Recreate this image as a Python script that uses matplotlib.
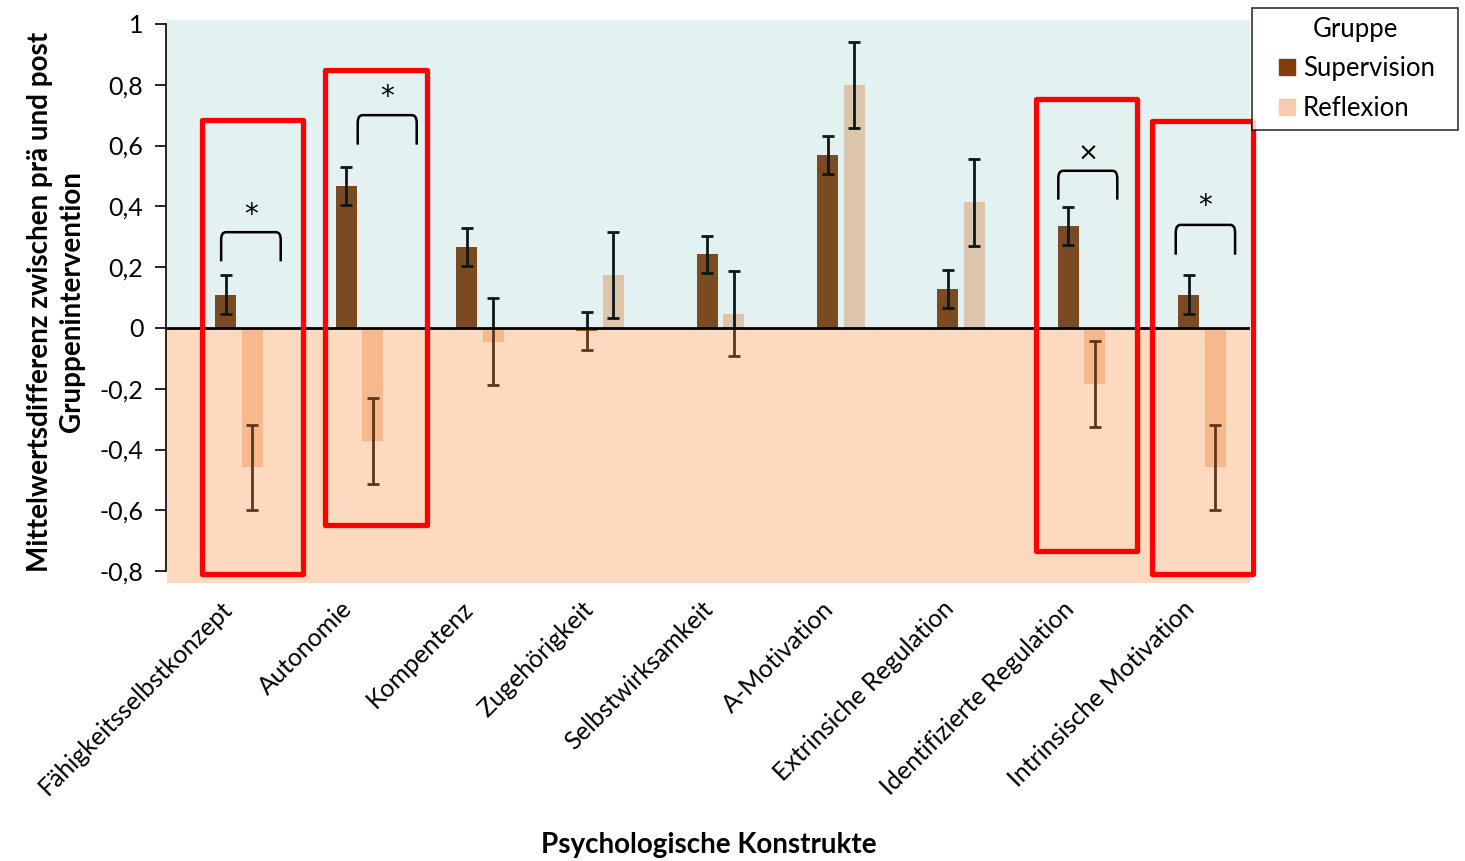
import numpy as np
import matplotlib
matplotlib.use("Agg")
import matplotlib.pyplot as plt
import matplotlib.transforms as mtransforms
from matplotlib.path import Path
from matplotlib.patches import PathPatch, Rectangle
from matplotlib.lines import Line2D

plt.rcParams["font.family"] = ["Lato", "DejaVu Sans"]

# data
categories = ["Fähigkeitsselbstkonzept", "Autonomie", "Kompentenz", "Zugehörigkeit",
              "Selbstwirksamkeit", "A-Motivation", "Extrinsiche Regulation",
              "Identifizierte Regulation", "Intrinsische Motivation"]
supervision = [0.11, 0.466, 0.266, -0.009, 0.242, 0.568, 0.128, 0.336, 0.11]
supervision_err = [0.063, 0.063, 0.063, 0.062, 0.062, 0.063, 0.062, 0.063, 0.063]
reflexion = [-0.459, -0.371, -0.045, 0.174, 0.047, 0.80, 0.413, -0.185, -0.459]
reflexion_err = [0.141, 0.141, 0.142, 0.141, 0.14, 0.141, 0.142, 0.141, 0.141]
yticks = [-0.8, -0.6, -0.4, -0.2, 0, 0.2, 0.4, 0.6, 0.8, 1]

# significance markers: (category, symbol)
signif = [(0, "*"), (1, "*"), (7, "×"), (8, "*")]
# bracket placement per marker: left/right offset from category, leg bottom, top, symbol y
bracket_pos = [(-0.05, 0.445, 0.219, 0.315, 0.37),
               (0.085, 0.575, 0.603, 0.70, 0.76),
               (-0.093, 0.397, 0.422, 0.517, 0.573),
               (-0.117, 0.376, 0.241, 0.339, 0.40)]
# highlighted boxes (x0, x1, y0, y1) in data units
highlight = [(-0.209, 0.630, -0.810, 0.685),
             (0.811, 1.658, -0.647, 0.847),
             (6.720, 7.565, -0.734, 0.754),
             (7.682, 8.525, -0.810, 0.680)]

SUP_COLOR = "#843c0c"
REF_COLOR = "#f8cbad"

fig = plt.figure(figsize=(14.65, 8.61), dpi=100)
ax = fig.add_axes([167 / 1465, 1 - 583 / 861, (1250 - 167) / 1465, (583 - 20) / 861])

x = np.arange(len(categories))
w = 0.175
ax.bar(x - 0.01, supervision, w, color=SUP_COLOR, zorder=2)
ax.bar(x + 0.21, reflexion, w, color=REF_COLOR, zorder=2)
ax.errorbar(x - 0.01, supervision, yerr=supervision_err, fmt="none", ecolor="black",
            elinewidth=2.0, capsize=4.5, capthick=2.0, zorder=2.5)
ax.errorbar(x + 0.21, reflexion, yerr=reflexion_err, fmt="none", ecolor="black",
            elinewidth=2.0, capsize=4.5, capthick=2.0, zorder=2.5)

ylo, yhi = -0.839, 1.013
ax.set_ylim(ylo, yhi)
ax.set_xlim(-0.5, len(categories) - 0.5)

# tinted overlays over positive / negative halves
ax.axhspan(0, yhi, color=(67 / 255, 167 / 255, 167 / 255), alpha=0.15, lw=0, zorder=3)
ax.axhspan(ylo, 0, color=(247 / 255, 151 / 255, 82 / 255), alpha=0.365, lw=0, zorder=3)
ax.axhline(0, color="black", lw=2, zorder=4)

for spine in ["top", "right", "bottom"]:
    ax.spines[spine].set_visible(False)
ax.spines["left"].set_bounds(-0.8, 1)
ax.spines["left"].set_linewidth(1.2)
ax.spines["left"].set_position(("outward", 1))

ax.set_yticks(yticks)
ax.set_yticklabels([f"{t:g}".replace(".", ",") for t in yticks], fontsize=18)
ax.tick_params(axis="y", length=8, width=1.2, pad=8)
ax.set_xticks(x)
ax.set_xticklabels(categories, rotation=45, ha="right", rotation_mode="anchor", fontsize=18)
ax.tick_params(axis="x", length=0, pad=10)
shift = mtransforms.ScaledTranslation(-7 / 100, 0, fig.dpi_scale_trans)
for lbl in ax.get_xticklabels():
    lbl.set_transform(lbl.get_transform() + shift)

ax.set_ylabel("Mittelwertsdifferenz zwischen prä und post\nGruppenintervention",
              fontsize=20, fontweight="bold", labelpad=10, linespacing=1.3)
ax.set_xlabel("Psychologische Konstrukte", fontsize=20, fontweight="bold", labelpad=24)

# significance brackets
for (cat, sym), (l, r, yb, yt, ys) in zip(signif, bracket_pos):
    x0, x1 = cat + l, cat + r
    rx, ry = 0.04, 0.025
    verts = [(x0, yb), (x0, yt - ry), (x0, yt), (x0 + rx, yt), (x1 - rx, yt),
             (x1, yt), (x1, yt - ry), (x1, yb)]
    codes = [Path.MOVETO, Path.LINETO, Path.CURVE3, Path.CURVE3, Path.LINETO,
             Path.CURVE3, Path.CURVE3, Path.LINETO]
    ax.add_patch(PathPatch(Path(verts, codes), fill=False, lw=1.8, color="black", zorder=5))
    ax.text((x0 + x1) / 2, ys, sym, ha="center", va="center", family="DejaVu Sans",
            fontsize=20 if sym == "*" else 18, zorder=5)

for x0, x1, y0, y1 in highlight:
    ax.add_patch(Rectangle((x0, y0), x1 - x0, y1 - y0, fill=False, ec="#ff0000", lw=3.8,
                           joinstyle="round", clip_on=False, zorder=6))

handles = [Line2D([], [], ls="none", marker="s", ms=11, mfc=SUP_COLOR, mec=SUP_COLOR),
           Line2D([], [], ls="none", marker="s", ms=11, mfc=REF_COLOR, mec=REF_COLOR)]
leg = fig.legend(handles, ["Supervision", "Reflexion"], title="Gruppe",
                 loc="upper left", bbox_to_anchor=(1252 / 1465, 1 - 128 / 861, 206 / 1465, 120 / 861),
                 mode="expand", borderaxespad=0,
                 fontsize=18.5, title_fontsize=18.5, frameon=True, fancybox=False,
                 edgecolor="black", handlelength=2.06, handletextpad=-0.43,
                 labelspacing=0.56, borderpad=0.35)
leg.get_frame().set_linewidth(1.2)

fig.savefig("out.png", dpi=100)
